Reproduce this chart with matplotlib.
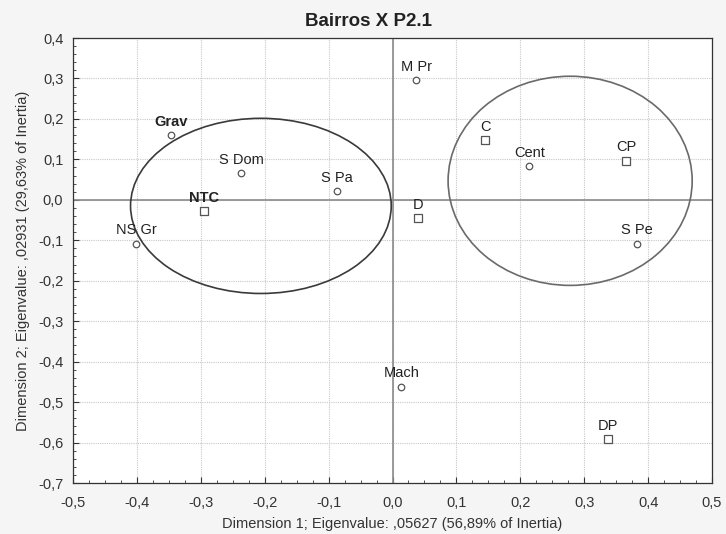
import matplotlib
matplotlib.use("Agg")
import matplotlib.pyplot as plt
from matplotlib.patches import Ellipse
from matplotlib.ticker import MultipleLocator, FuncFormatter

plt.rcParams['font.family'] = ['Liberation Sans', 'DejaVu Sans']

# Row points (circles)
circle_labels = ["Grav", "S Dom", "S Pa", "NS Gr", "M Pr", "Cent", "S Pe", "Mach"]
circle_x = [-0.347, -0.237, -0.087, -0.401, 0.037, 0.214, 0.382, 0.014]
circle_y = [0.160, 0.066, 0.021, -0.108, 0.296, 0.083, -0.108, -0.462]

# Column points (squares)
square_labels = ["NTC", "C", "CP", "D", "DP"]
square_x = [-0.295, 0.145, 0.366, 0.040, 0.337]
square_y = [-0.028, 0.147, 0.097, -0.045, -0.592]

bold_labels = ["Grav", "NTC"]

# Ellipses: center x, center y, width, height
ell_cx = [-0.206, 0.278]
ell_cy = [-0.015, 0.047]
ell_w = [0.408, 0.382]
ell_h = [0.433, 0.517]
ell_col = ["#3a3a3a", "#6a6a6a"]

fig = plt.figure(figsize=(7.26, 5.34), dpi=100, facecolor="#f5f5f5")
ax = fig.add_axes([0.1006, 0.0955, 0.8801, 0.8333])
ax.set_facecolor("white")

ax.set_xlim(-0.5, 0.5)
ax.set_ylim(-0.7, 0.4)
ax.xaxis.set_major_locator(MultipleLocator(0.1))
ax.yaxis.set_major_locator(MultipleLocator(0.1))
ax.xaxis.set_minor_locator(MultipleLocator(0.025))
ax.yaxis.set_minor_locator(MultipleLocator(0.02))
fmt = FuncFormatter(lambda v, p: f"{v:.1f}".replace(".", ",").replace("-0,0", "0,0"))
ax.xaxis.set_major_formatter(fmt)
ax.yaxis.set_major_formatter(fmt)
ax.tick_params(which="both", direction="in", top=False, right=False, colors="#333333",
               labelsize=10.5, labelcolor="#333333")
ax.tick_params(which="major", length=4)
ax.tick_params(which="minor", length=2.5)
ax.tick_params(axis="x", which="major", pad=9.5)
ax.tick_params(axis="y", which="major", pad=7)
ax.grid(True, which="major", linestyle=(0, (1, 1)), color="#c8c8c8", linewidth=0.8)
ax.set_axisbelow(True)
for s in ax.spines.values():
    s.set_color("#333333")
    s.set_linewidth(0.9)

ax.axhline(0, color="#8a8a8a", linewidth=1.2, zorder=1.5)
ax.axvline(0, color="#8a8a8a", linewidth=1.2, zorder=1.5)

for cx, cy, w, h, c in zip(ell_cx, ell_cy, ell_w, ell_h, ell_col):
    ax.add_patch(Ellipse((cx, cy), w, h, fill=False, edgecolor=c, linewidth=1.2, zorder=3))

ax.scatter(circle_x, circle_y, marker="o", s=22, facecolors="white", edgecolors="#555555",
           linewidths=0.9, zorder=4)
ax.scatter(square_x, square_y, marker="s", s=26, facecolors="white", edgecolors="#555555",
           linewidths=0.9, zorder=4)

for lab, x, y in list(zip(circle_labels, circle_x, circle_y)) + list(zip(square_labels, square_x, square_y)):
    ax.annotate(lab, (x, y), xytext=(0, 4.5), textcoords="offset points", ha="center",
                va="bottom", fontsize=10.5, color="#222222",
                fontweight="bold" if lab in bold_labels else "normal", zorder=5)

ax.set_title("Bairros X P2.1", fontsize=13.5, fontweight="bold", color="#222222", pad=9,
             x=0.463)
ax.set_xlabel("Dimension 1; Eigenvalue: ,05627 (56,89% of Inertia)", fontsize=10.5,
              color="#333333", labelpad=5)
ax.set_ylabel("Dimension 2; Eigenvalue: ,02931 (29,63% of Inertia)", fontsize=10.5,
              color="#333333", labelpad=6)

fig.savefig("out.png", dpi=100, facecolor=fig.get_facecolor())
